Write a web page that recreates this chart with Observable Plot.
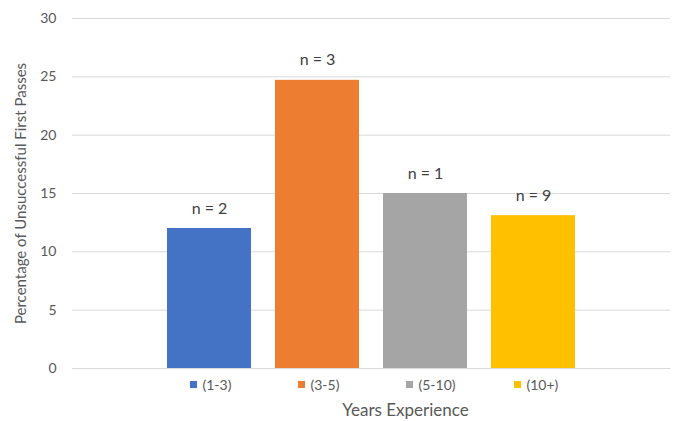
<!DOCTYPE html>
<html>
<head>
<meta charset="utf-8">
<script src="https://cdn.jsdelivr.net/npm/d3@7"></script>
<script src="https://cdn.jsdelivr.net/npm/@observablehq/plot@0.6"></script>
<style>
  html, body { margin: 0; padding: 0; background: #fff; }
  svg { font-family: Lato, "Open Sans", sans-serif; }
</style>
</head>
<body>
<div id="chart"></div>
<script>
const categories = ["(1-3)", "(3-5)", "(5-10)", "(10+)"];
const values = [12, 24.7, 15, 13.1];
const counts = ["n = 2", "n = 3", "n = 1", "n = 9"];
const yTicks = [0, 5, 10, 15, 20, 25, 30];
const palette = ["#4472C4", "#ED7D31", "#A5A5A5", "#FFC000"];

const data = categories.map((c, i) => ({cat: c, value: values[i], n: counts[i]}));

const chart = Plot.plot({
  width: 677,
  height: 421,
  marginLeft: 72,
  marginRight: 7,
  marginTop: 18,
  marginBottom: 53,
  style: {fontFamily: "Lato, 'Open Sans', sans-serif", background: "#fff", overflow: "visible"},
  x: {domain: categories, paddingInner: 0.226, paddingOuter: 0.868, axis: null},
  y: {domain: [0, 30]},
  color: {domain: categories, range: palette},
  marks: [
    Plot.ruleY(yTicks, {stroke: "#d9d9d9", strokeWidth: 1}),
    Plot.axisY({
      ticks: yTicks,
      tickSize: 0,
      tickPadding: 16,
      fontSize: 14,
      color: "#595959",
      label: null
    }),
    Plot.text(["Percentage of Unsuccessful First Passes"], {
      frameAnchor: "left", dx: -51, rotate: -90, text: d => d,
      textAnchor: "middle", lineAnchor: "middle", fontSize: 15, fill: "#595959"
    }),
    Plot.barY(data, {x: "cat", y: "value", fill: "cat"}),
    Plot.text(data, {x: "cat", y: "value", text: "n", dy: -20, lineAnchor: "middle", fontSize: 16, fill: "#404040"}),
    Plot.dot(data, {x: "cat", frameAnchor: "bottom", dy: 16, dx: -16, symbol: "square", r: 4, fill: "cat", stroke: null}),
    Plot.text(data, {x: "cat", frameAnchor: "bottom", dy: 17, dx: -7, text: "cat", textAnchor: "start", lineAnchor: "middle", fontSize: 14, fill: "#595959"}),
    Plot.text(["Years Experience"], {frameAnchor: "bottom", dy: 42, dx: 34, text: d => d, lineAnchor: "middle", fontSize: 17, fill: "#595959"})
  ]
});

document.getElementById("chart").appendChild(chart);
</script>
</body>
</html>
